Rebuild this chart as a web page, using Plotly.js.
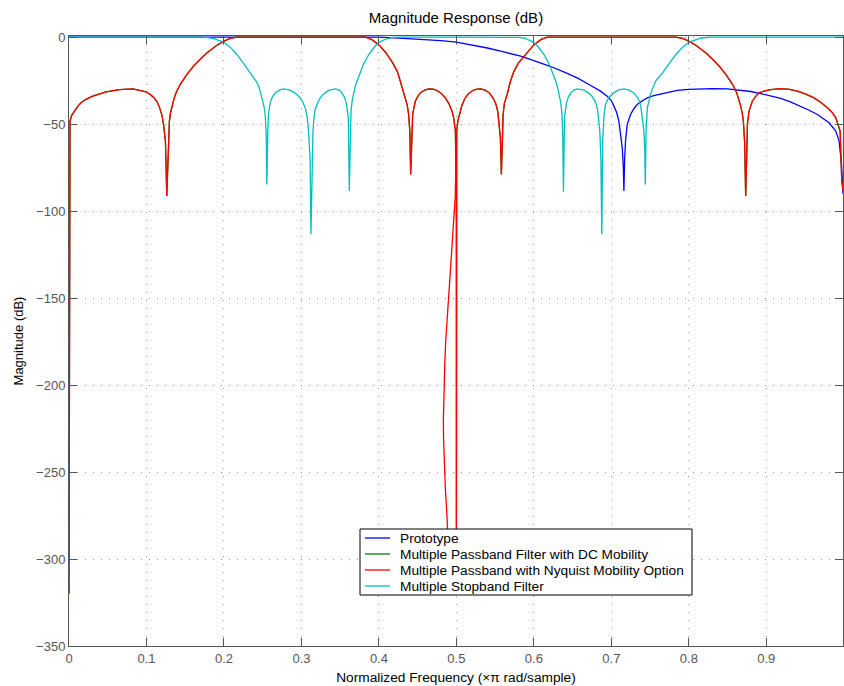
<!DOCTYPE html>
<html>
<head>
<meta charset="utf-8">
<script src="https://cdn.plot.ly/plotly-3.0.1.min.js"></script>
<style>html,body{margin:0;padding:0;background:#fff;}#chart{width:844px;height:686px;}</style>
</head>
<body>
<div id="chart"></div>
<script>
// Normalized frequency (x pi rad/sample) and magnitude (dB)
const protoX = [0,0.1,0.2,0.3,0.38,0.40,0.42,0.44,0.462,0.48,0.50,0.52,0.54,0.56,0.583,0.60,0.621,0.64,0.656,0.67,0.686,0.6947,0.7,0.7033,0.707,0.7097,0.712,0.7141,0.7155,0.7162,0.7172,0.7183,0.7205,0.7248,0.729,0.7334,0.74,0.7464,0.7546,0.7636,0.775,0.7851,0.80,0.8152,0.83,0.8497,0.8669,0.88,0.8928,0.906,0.9186,0.932,0.9444,0.956,0.966,0.974,0.981,0.9897,0.994,0.9971,0.999];
const protoY = [0,0,0,0,0,-0.1,-0.5,-0.9,-1.5,-2.1,-2.9,-4.4,-6.3,-8.4,-11,-13.5,-16.8,-20.3,-23.5,-27,-31.1,-34,-36.5,-39.7,-43.5,-48.3,-55,-63.7,-75,-88.5,-70,-59.8,-50.2,-44.5,-41.2,-38.8,-36.6,-35,-33.7,-32.7,-31.5,-30.7,-30.1,-29.8,-29.7,-29.8,-30.6,-31.3,-32.5,-33.8,-35.3,-37.4,-39.7,-42.2,-44.5,-46.8,-49.3,-54,-59.8,-73.2,-90];

const dcX = [0,0.0004,0.0013,0.0035,0.0069,0.011,0.0155,0.022,0.0306,0.0478,0.065,0.0823,0.0995,0.105,0.110,0.114,0.117,0.12,0.122,0.1245,0.1262,0.128,0.1296,0.131,0.133,0.1355,0.1382,0.1434,0.152,0.1606,0.17,0.1779,0.19,0.1994,0.208,0.2167,0.3,0.383,0.391,0.40,0.409,0.418,0.424,0.4276,0.431,0.4341,0.4365,0.4384,0.440,0.441,0.4422,0.4436,0.4452,0.447,0.450,0.4535,0.4585,0.4642,0.4700,0.4751,0.4805,0.4858,0.4905,0.4944,0.4968,0.4987,0.4998,0.4999,0.5,0.5,0.5004,0.502,0.5039,0.507,0.5103,0.515,0.5211,0.5265,0.5319,0.5375,0.5426,0.548,0.5512,0.5533,0.5547,0.5568,0.5581,0.5593,0.5603,0.562,0.5655,0.5698,0.574,0.58,0.591,0.60,0.609,0.617,0.7,0.7833,0.792,0.8006,0.81,0.8221,0.83,0.8394,0.848,0.8566,0.8618,0.8645,0.867,0.869,0.8704,0.872,0.8734,0.8752,0.8756,0.8777,0.8795,0.882,0.886,0.8906,0.898,0.9057,0.9186,0.93,0.9402,0.951,0.9617,0.9705,0.9789,0.985,0.9897,0.9953,0.9974,0.999];
const dcY = [-320,-60,-48.3,-45,-42.6,-40,-37.8,-35.8,-34,-31.5,-30.2,-29.8,-31.5,-33,-35,-37.5,-40.7,-45,-50.2,-60,-91.4,-60,-48.3,-43.5,-39.7,-35.5,-32,-27.3,-21.6,-16.8,-12.5,-9.2,-5,-2.5,-0.8,0,0,0,-1.5,-4.5,-9,-15,-20,-25.4,-30,-35,-39,-44.5,-55,-79,-55,-44.5,-40.5,-36.9,-34.2,-32.1,-30.6,-29.8,-29.9,-30.7,-32.4,-35,-38.4,-42.6,-47,-54,-100,-300,-300,-100,-54,-48,-44.5,-39.5,-35.9,-32.8,-30.7,-29.9,-29.8,-30.6,-32.1,-35.5,-38.8,-42.5,-48.3,-58,-79,-55,-44.5,-38,-33,-25.4,-20,-15,-9,-4.5,-1.5,0,0,0,-0.8,-2.5,-5,-9.2,-12.5,-16.8,-21.6,-27.3,-32,-35.5,-39.7,-43.8,-48.3,-60,-91.4,-60,-50.2,-42.6,-39.5,-36.9,-34.2,-32.1,-30.9,-30.2,-29.6,-30.1,-31.1,-32.8,-35,-37.6,-40.7,-43.3,-46.4,-54,-82.7,-88];

const nyqX = [0,0.0004,0.0013,0.0035,0.0069,0.011,0.0155,0.022,0.0306,0.0478,0.065,0.0823,0.0995,0.105,0.110,0.114,0.117,0.12,0.122,0.1245,0.1262,0.128,0.1296,0.131,0.133,0.1355,0.1382,0.1434,0.152,0.1606,0.17,0.1779,0.19,0.1994,0.208,0.2167,0.3,0.383,0.391,0.40,0.409,0.418,0.424,0.4276,0.431,0.4341,0.4365,0.4384,0.440,0.441,0.4422,0.4436,0.4452,0.447,0.450,0.4535,0.4585,0.4642,0.4700,0.4751,0.4805,0.4858,0.4905,0.4944,0.4968,0.4987,0.4995,0.4992,0.4985,0.4973,0.4955,0.4935,0.4915,0.4897,0.4878,0.4862,0.485,0.4841,0.4835,0.4832,0.4834,0.4840,0.4848,0.4858,0.4872,0.4888,0.4905,0.5,0.5,0.5004,0.502,0.5039,0.507,0.5103,0.515,0.5211,0.5265,0.5319,0.5375,0.5426,0.548,0.5512,0.5533,0.5547,0.5568,0.5581,0.5593,0.5603,0.562,0.5655,0.5698,0.574,0.58,0.591,0.60,0.609,0.617,0.7,0.7833,0.792,0.8006,0.81,0.8221,0.83,0.8394,0.848,0.8566,0.8618,0.8645,0.867,0.869,0.8704,0.872,0.8734,0.8752,0.8756,0.8777,0.8795,0.882,0.886,0.8906,0.898,0.9057,0.9186,0.93,0.9402,0.951,0.9617,0.9705,0.9789,0.985,0.9897,0.9953,0.9974,0.999];
const nyqY = [-320,-60,-48.3,-45,-42.6,-40,-37.8,-35.8,-34,-31.5,-30.2,-29.8,-31.5,-33,-35,-37.5,-40.7,-45,-50.2,-60,-91.4,-60,-48.3,-43.5,-39.7,-35.5,-32,-27.3,-21.6,-16.8,-12.5,-9.2,-5,-2.5,-0.8,0,0,0,-1.5,-4.5,-9,-15,-20,-25.4,-30,-35,-39,-44.5,-55,-79,-55,-44.5,-40.5,-36.9,-34.2,-32.1,-30.6,-29.8,-29.9,-30.7,-32.4,-35,-38.4,-42.6,-47,-54,-70,-83,-92,-100,-112,-125,-138,-150,-163,-175,-188,-200,-210,-220,-230,-240,-250,-260,-270,-282,-300,-300,-100,-54,-48,-44.5,-39.5,-35.9,-32.8,-30.7,-29.9,-29.8,-30.6,-32.1,-35.5,-38.8,-42.5,-48.3,-58,-79,-55,-44.5,-38,-33,-25.4,-20,-15,-9,-4.5,-1.5,0,0,0,-0.8,-2.5,-5,-9.2,-12.5,-16.8,-21.6,-27.3,-32,-35.5,-39.7,-43.8,-48.3,-60,-91.4,-60,-50.2,-42.6,-39.5,-36.9,-34.2,-32.1,-30.9,-30.2,-29.6,-30.1,-31.1,-32.8,-35,-37.6,-40.7,-43.3,-46.4,-54,-82.7,-88];

const stopX = [0,0.1,0.1735,0.185,0.1994,0.208,0.2167,0.225,0.2339,0.238,0.2425,0.245,0.2468,0.249,0.2515,0.2532,0.2545,0.2554,0.2565,0.2575,0.2597,0.2625,0.2661,0.2715,0.2769,0.2825,0.2877,0.2935,0.2984,0.302,0.3049,0.3075,0.3092,0.3112,0.3123,0.3135,0.3149,0.3162,0.3178,0.321,0.3243,0.329,0.335,0.3437,0.3485,0.3523,0.3555,0.3579,0.3605,0.3618,0.3628,0.364,0.3655,0.3673,0.3695,0.3717,0.376,0.380,0.387,0.395,0.402,0.41,0.418,0.428,0.5,0.572,0.582,0.59,0.598,0.605,0.613,0.62,0.624,0.6283,0.6305,0.6327,0.6345,0.636,0.6372,0.6382,0.6395,0.6421,0.6445,0.6477,0.6515,0.656,0.665,0.671,0.675,0.6795,0.6822,0.6851,0.6865,0.6877,0.6888,0.6905,0.6925,0.697,0.7033,0.7095,0.7162,0.723,0.729,0.734,0.7377,0.742,0.7432,0.7438,0.7448,0.7464,0.7485,0.7506,0.7532,0.755,0.7571,0.762,0.7661,0.775,0.7833,0.792,0.8006,0.815,0.8265,0.9,0.999];
const stopY = [0,0,0,-0.7,-2.9,-5.8,-10,-15,-20.6,-23,-26,-28.5,-31,-35,-39.5,-44.5,-55,-84.7,-55,-44.5,-37.8,-34.5,-32.1,-30.5,-29.8,-30.2,-31.1,-32.8,-35,-37.6,-40.7,-46,-54,-70,-113.3,-70,-54,-46.5,-41.6,-37.8,-35,-32.6,-30.7,-29.8,-30.5,-32.1,-34.5,-37.8,-46.4,-88.5,-55,-42.6,-36.5,-32,-28.3,-25.4,-20.2,-15.8,-10,-5.3,-2.6,-1,-0.2,0,0,0,-0.2,-1,-2.6,-5.3,-10,-15.8,-20.2,-25.4,-28.8,-33,-37.3,-42.6,-55,-88.9,-46.4,-37.8,-34.5,-32.1,-30.5,-29.8,-30.5,-32.3,-34,-37.4,-41.6,-54,-70,-113.3,-60,-45,-38.8,-34.6,-32.1,-30.4,-29.8,-30.5,-32.1,-34.8,-38.8,-54,-65,-84.7,-55,-40.7,-36.3,-33,-29.5,-27.5,-25.4,-22.6,-20.6,-15,-10,-5.8,-2.9,-0.7,0,0,0];

const xTicks = [0,0.1,0.2,0.3,0.4,0.5,0.6,0.7,0.8,0.9];
const xTickText = ['0','0.1','0.2','0.3','0.4','0.5','0.6','0.7','0.8','0.9'];
const yTicks = [0,-50,-100,-150,-200,-250,-300,-350];
const yTickText = ['0','\u221250','\u2212100','\u2212150','\u2212200','\u2212250','\u2212300','\u2212350'];

const names = ['Prototype','Multiple Passband Filter with DC Mobility','Multiple Passband with Nyquist Mobility Option','Multiple Stopband Filter'];
const colors = ['#0000ff','#008000','#ff0000','#00bfbf'];

const series = [[protoX,protoY],[dcX,dcY],[nyqX,nyqY],[stopX,stopY]];
const traces = series.map((s,i)=>({
  x: s[0], y: s[1], type:'scatter', mode:'lines', name: names[i],
  line:{color:colors[i], width:1.3}, showlegend:false
}));

const FONT = 'Liberation Sans, Arial, Helvetica, sans-serif';
const axisCommon = {
  showline:true, linecolor:'#555', linewidth:1, mirror:'ticks',
  ticks:'inside', ticklen:8, tickcolor:'#555', tickwidth:1,
  showgrid:true, gridcolor:'#999', griddash:'1px,7px', gridwidth:1,
  zeroline:false, tickfont:{family:FONT, size:13, color:'#555'}
};

// Legend box (drawn manually so entry spacing matches the reference)
const L = {left:360, right:692, top:529, bottom:595, lineX0:365, lineX1:390, textX:398, firstY:538, step:16};
const px2x = p => (p-69)/774;
const px2y = p => (646-p)/610;
const shapes = [{type:'rect', xref:'paper', yref:'paper', x0:px2x(L.left), x1:px2x(L.right), y0:px2y(L.bottom), y1:px2y(L.top),
  line:{color:'#000', width:1}, fillcolor:'#fff', layer:'above'}];
const annotations = [];
names.forEach((n,i)=>{
  const yy = px2y(L.firstY + i*L.step);
  shapes.push({type:'line', xref:'paper', yref:'paper', x0:px2x(L.lineX0), x1:px2x(L.lineX1), y0:yy, y1:yy, line:{color:colors[i], width:1.3}, layer:'above'});
  annotations.push({xref:'paper', yref:'paper', x:px2x(L.textX), y:yy, xanchor:'left', yanchor:'middle', showarrow:false,
    text:n, font:{family:FONT, size:13.7, color:'#000'}});
});

const layout = {
  width:844, height:686,
  margin:{l:69, r:1, t:36, b:40},
  paper_bgcolor:'#fff', plot_bgcolor:'#fff',
  font:{family:FONT, size:13, color:'#000'},
  title:{text:'Magnitude Response (dB)', font:{family:FONT, size:15, color:'#000'}, x:0.5, xref:'paper', xanchor:'center', y:1-18/686, yref:'container', yanchor:'middle'},
  xaxis:Object.assign({}, axisCommon, {range:[0,0.999], tickmode:'array', tickvals:xTicks, ticktext:xTickText,
    title:{text:'Normalized Frequency (\u00d7\u03c0 rad/sample)', font:{family:FONT,size:13.7,color:'#000'}, standoff:7}}),
  yaxis:Object.assign({}, axisCommon, {range:[-350,0.6], tickmode:'array', tickvals:yTicks, ticktext:yTickText,
    title:{text:'Magnitude (dB)', font:{family:FONT,size:13,color:'#000'}, standoff:9}}),
  showlegend:false,
  shapes:shapes, annotations:annotations
};

Plotly.newPlot('chart', traces, layout, {staticPlot:true, displayModeBar:false});
</script>
</body>
</html>
